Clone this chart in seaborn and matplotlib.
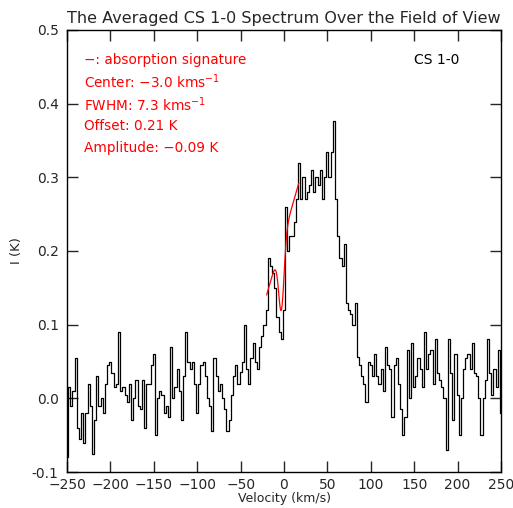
import numpy as np
import pandas as pd
import seaborn as sns
import matplotlib
matplotlib.use("Agg")
import matplotlib.pyplot as plt
from matplotlib.ticker import MultipleLocator, FormatStrFormatter

# channel grid (km/s), 2.5 km/s channels
v_start, v_stop, v_step = -250.0, 250.0, 2.5

# averaged CS 1-0 intensity (K)
int_blue_wing = [
    -0.08, 0.015, -0.01, 0.01, 0.055, -0.04, -0.055, -0.02, -0.06, -0.02,
    0.02, -0.01, -0.075, -0.03, 0.03, -0.01, 0.0, -0.02, 0.02, 0.045,
    0.05, 0.035, 0.015, 0.02, 0.09, 0.01, 0.015, 0.005, -0.005, 0.02,
    -0.03, 0.0, 0.025, -0.01, -0.015, 0.025, -0.04, 0.02, 0.02, 0.045,
    0.06, -0.05, 0.0, 0.01, 0.005, -0.02, -0.01, -0.025, 0.07, 0.0,
    0.015, 0.04, 0.01, -0.03, 0.03, 0.09, 0.05, 0.04, 0.05, 0.02,
    -0.02, 0.02, 0.045, 0.05, 0.03, 0.0, -0.01, -0.045, 0.055, 0.03,
    0.01, 0.02, 0.0, -0.015, -0.045, -0.03, 0.005, 0.03, 0.045, 0.02,
]
int_line_core = [
    0.036, 0.05, 0.10, 0.04, 0.02, 0.055, 0.075, 0.05, 0.04, 0.07,
    0.085, 0.10, 0.12, 0.19, 0.18, 0.17, 0.15, 0.11, 0.09, 0.08,
    0.12, 0.26, 0.20, 0.22, 0.22, 0.24, 0.27, 0.32, 0.27, 0.30,
    0.27, 0.28, 0.29, 0.31, 0.28, 0.30, 0.29, 0.31, 0.27, 0.30,
    0.335, 0.30, 0.335, 0.377, 0.27, 0.22, 0.19, 0.18, 0.21, 0.13,
    0.12, 0.115, 0.10, 0.13, 0.056, 0.045, 0.03, 0.02, -0.005, 0.05,
    0.045, 0.03, 0.06, 0.03, 0.02, 0.04, 0.01, 0.07, 0.045, 0.04,
    -0.025,
]
int_red_wing = [
    0.045, 0.055, 0.02, -0.015, -0.05, -0.025, 0.065, 0.0, 0.075, 0.015,
    0.03, 0.055, 0.04, 0.015, 0.09, 0.04, 0.06, 0.065, 0.02, 0.08,
    0.035, 0.025, 0.015, 0.0, -0.07, 0.08, 0.035, -0.03, 0.06, 0.005,
    -0.05, 0.0, 0.04, 0.055, 0.06, 0.04, 0.075, 0.035, 0.03, 0.0,
    -0.05, 0.0, 0.025, 0.08, 0.035, 0.005, 0.04, 0.015, 0.065, -0.02,
]

# absorption fit (gaussian on a sloped baseline)
fit_center = -3.0     # km/s
fit_fwhm = 7.3        # km/s
fit_offset = 0.21     # K
fit_amplitude = -0.09  # K
fit_slope = 0.0041    # K per km/s
fit_range = (-20.0, 17.0)

notes = [
    "\u2212: absorption signature",
    "Center: \u22123.0 kms$^{-1}$",
    "FWHM: 7.3 kms$^{-1}$",
    "Offset: 0.21 K",
    "Amplitude: \u22120.09 K",
]

velocity = np.arange(v_start, v_stop + v_step / 2, v_step)
spec = pd.DataFrame({
    "velocity": velocity,
    "intensity": int_blue_wing + int_line_core + int_red_wing,
})

v_fit = np.linspace(fit_range[0], fit_range[1], 80)
fit = pd.DataFrame({
    "velocity": v_fit,
    "model": fit_offset + fit_slope * (v_fit - fit_center)
    + fit_amplitude * np.exp(-4 * np.log(2) * (v_fit - fit_center) ** 2 / fit_fwhm ** 2),
})

sns.set_style("ticks")
plt.rcParams["font.family"] = ["DejaVu Sans"]

fig = plt.figure(figsize=(5.13, 5.08), dpi=100)
ax = fig.add_axes([67 / 513, 36 / 508, 434 / 513, 442 / 508])

sns.lineplot(data=spec, x="velocity", y="intensity", ax=ax, color="black",
             linewidth=0.9, drawstyle="steps-mid", sort=False, estimator=None)
sns.lineplot(data=fit, x="velocity", y="model", ax=ax, color="red",
             linewidth=0.9, sort=False, estimator=None)

ax.set_xlim(-250, 250)
ax.set_ylim(-0.1, 0.5)
ax.xaxis.set_major_locator(MultipleLocator(50))
ax.yaxis.set_major_locator(MultipleLocator(0.1))
ax.yaxis.set_major_formatter(FormatStrFormatter("%.1f"))
ax.tick_params(direction="in", top=True, right=True, length=8, width=1,
               labelsize=10)
ax.tick_params(axis="x", pad=4)
ax.tick_params(axis="y", pad=6)
for s in ax.spines.values():
    s.set_linewidth(1)
    s.set_color("black")

ax.set_xlabel("Velocity (km/s)", fontsize=9, labelpad=0)
ax.set_ylabel("I (K)", fontsize=9.5, labelpad=6)
ax.set_title("The Averaged CS 1-0 Spectrum Over the Field of View",
             fontsize=11.5, pad=5)

for i, t in enumerate(notes):
    ax.text(0.04, 0.932 - i * 0.05, t, transform=ax.transAxes, color="red",
            fontsize=9.8, va="center", ha="left")
ax.text(0.80, 0.932, "CS 1-0", transform=ax.transAxes, color="black",
        fontsize=10, va="center", ha="left")

fig.savefig("out.png", dpi=100)
